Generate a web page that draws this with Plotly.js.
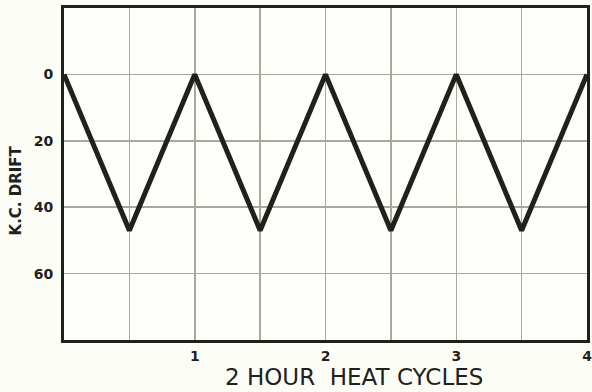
<!DOCTYPE html>
<html>
<head>
<meta charset="utf-8">
<script src="https://cdn.plot.ly/plotly-3.0.1.min.js"></script>
<style>
  html, body { margin: 0; padding: 0; background: #fdfdf8; }
  #chart { width: 592px; height: 392px; }
</style>
</head>
<body>
<div id="chart"></div>
<script>
// Heat cycles (2-hour cycles) and the crystal drift in kc at each turning point
const cycles = [0, 0.5, 1, 1.5, 2, 2.5, 3, 3.5, 4];
const drift = [0, 47, 0, 47, 0, 47, 0, 47, 0];

const xTickVals = [0.5, 1, 1.5, 2, 2.5, 3, 3.5, 4];
const xTickText = ["", "1", "", "2", "", "3", "", "4"];
const yTickVals = [0, 20, 40, 60];
const yTickText = ["0", "20", "40", "60"];

const ink = "#1f211b";
const gridColor = "#a7a99c";
const letterFont = "DejaVu Sans, Arial, sans-serif";

const trace = {
  x: cycles,
  y: drift,
  mode: "lines",
  line: { color: ink, width: 5 },
  hoverinfo: "skip"
};

const layout = {
  width: 592,
  height: 392,
  paper_bgcolor: "#fdfdf8",
  plot_bgcolor: "#fefefb",
  margin: { l: 64, r: 5, t: 8, b: 52 },
  showlegend: false,
  xaxis: {
    range: [0, 4],
    tickvals: xTickVals,
    ticktext: xTickText,
    showgrid: true,
    gridcolor: gridColor,
    gridwidth: 1.5,
    zeroline: false,
    showline: true,
    linecolor: ink,
    linewidth: 3,
    mirror: true,
    ticks: "",
    ticklabelstandoff: 1,
    ticklabeloverflow: "allow",
    tickfont: { family: letterFont, size: 14, color: ink, weight: "bold" },
    fixedrange: true
  },
  yaxis: {
    range: [80, -20],
    tickvals: yTickVals,
    ticktext: yTickText,
    showgrid: true,
    gridcolor: gridColor,
    gridwidth: 1.5,
    zeroline: false,
    showline: true,
    linecolor: ink,
    linewidth: 3,
    mirror: true,
    ticks: "",
    ticklabelstandoff: 5,
    tickfont: { family: letterFont, size: 14, color: ink, weight: "bold" },
    fixedrange: true
  },
  annotations: [
    {
      text: "2 HOUR  HEAT CYCLES",
      xref: "paper", yref: "paper",
      x: 0.555, y: -0.112,
      xanchor: "center", yanchor: "middle",
      borderpad: 0,
      showarrow: false,
      font: { family: letterFont, size: 23, color: ink }
    },
    {
      text: "K.C. DRIFT",
      xref: "paper", yref: "paper",
      x: -0.092, y: 0.45,
      xanchor: "center", yanchor: "middle",
      textangle: -90,
      showarrow: false,
      font: { family: letterFont, size: 15, color: ink, weight: "bold" }
    }
  ]
};

Plotly.newPlot("chart", [trace], layout, { staticPlot: true, displayModeBar: false });
</script>
</body>
</html>
